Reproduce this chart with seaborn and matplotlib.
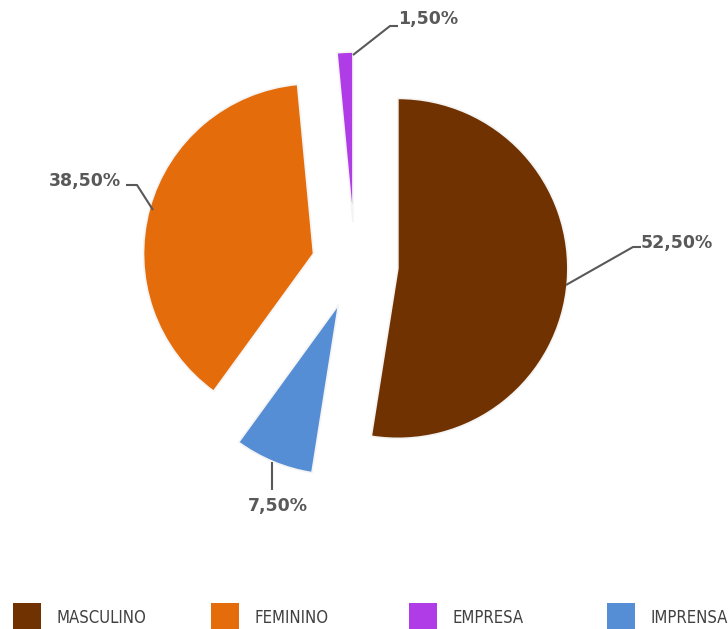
import matplotlib
matplotlib.use("Agg")
import matplotlib.pyplot as plt
import seaborn as sns
from matplotlib.patches import Rectangle

sns.set_theme(style="white")
plt.rcParams['font.family'] = ['DejaVu Sans']

# Data (clockwise order from 12 o'clock)
categories = ["MASCULINO", "IMPRENSA", "FEMININO", "EMPRESA"]
values = [52.5, 7.5, 38.5, 1.5]
value_labels = ["52,50%", "7,50%", "38,50%", "1,50%"]
legend_order = ["MASCULINO", "FEMININO", "EMPRESA", "IMPRENSA"]
colors = {"MASCULINO": "#703200", "FEMININO": "#E46C0A",
          "EMPRESA": "#B03CE8", "IMPRENSA": "#558ED5"}

W, H = 728, 629
fig = plt.figure(figsize=(W / 100, H / 100), dpi=100)
ax = fig.add_axes([0, 0, 1, 1])

cx, cy, r = 355, H - 265, 170
ax.pie(values, colors=[colors[c] for c in categories], startangle=90,
       counterclock=False, explode=[43] * len(values), radius=r,
       center=(cx, cy), wedgeprops=dict(edgecolor="#f4f4f4", linewidth=1.2))
ax.set_xlim(0, W)
ax.set_ylim(0, H)
ax.set_aspect("equal")
ax.axis("off")

lc = "#595959"
tc = "#595959"
fs = 12.5
# leader lines and labels (layout positions in pixels)
leaders = {
    "MASCULINO": ([(566, 285), (633, 247), (641, 247)], (641, 243), "left"),
    "EMPRESA": ([(353, 55), (390, 26), (398, 26)], (398, 19), "left"),
    "FEMININO": ([(153, 210), (137, 185), (126, 185)], (121, 181), "right"),
    "IMPRENSA": ([(272, 462), (272, 490)], (278, 506), "center"),
}
for cat, lab in zip(categories, value_labels):
    pts, (tx, ty), ha = leaders[cat]
    ax.plot([p[0] for p in pts], [H - p[1] for p in pts], color=lc, lw=1.5,
            solid_capstyle="butt")
    ax.text(tx, H - ty, lab, ha=ha, va="center", fontsize=fs,
            fontweight="bold", color=tc)

# legend at bottom
sq_x = [13, 211, 409, 607]
for x, cat in zip(sq_x, legend_order):
    ax.add_patch(Rectangle((x, H - 632), 28, 29, facecolor=colors[cat],
                           edgecolor="none", clip_on=False))
    ax.text(x + 44, H - 618, cat, ha="left", va="center", fontsize=12,
            color="#404040", family="DejaVu Sans", fontstretch="condensed")

fig.savefig("out.png", dpi=100, facecolor="white")
